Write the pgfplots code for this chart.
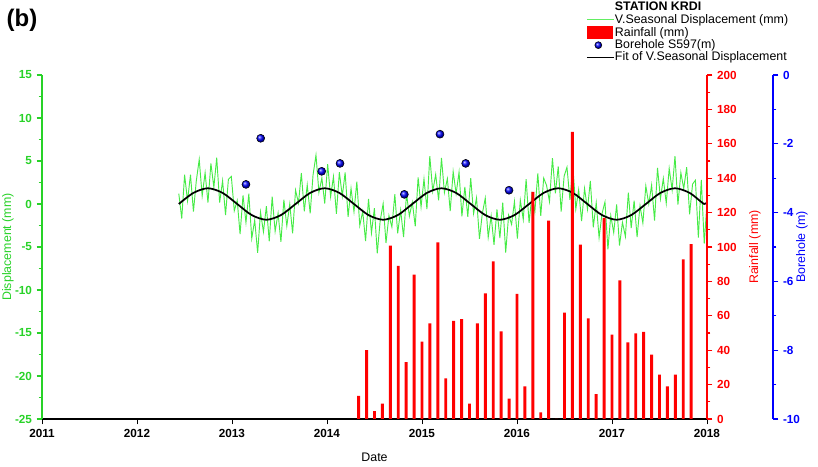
\documentclass[border=0pt]{standalone}
\usepackage{fontspec}
\setmainfont{Liberation Sans}
\usepackage{pgfplots}
\pgfplotsset{compat=1.18}
\definecolor{axgreen}{RGB}{40,210,40}
\definecolor{datgreen}{RGB}{70,235,70}

% seasonal displacement (mm)
\pgfplotstableread{
t y
2012.440 1.20
2012.471 -1.69
2012.501 3.40
2012.532 0.36
2012.563 3.41
2012.594 -0.89
2012.624 2.67
2012.655 5.18
2012.686 0.94
2012.717 3.63
2012.747 0.16
2012.778 4.73
2012.809 1.94
2012.839 5.38
2012.870 0.17
2012.901 2.71
2012.932 -1.29
2012.962 2.86
2012.993 3.20
2013.024 -0.79
2013.055 0.40
2013.085 -3.51
2013.116 1.00
2013.147 -2.16
2013.177 1.19
2013.208 -4.01
2013.239 -1.87
2013.270 -5.68
2013.300 -0.94
2013.331 -3.23
2013.362 -0.26
2013.392 -4.33
2013.423 0.86
2013.454 -3.18
2013.485 -1.07
2013.515 -4.41
2013.546 0.49
2013.577 -2.56
2013.608 0.00
2013.638 -3.41
2013.669 1.60
2013.700 0.11
2013.730 3.60
2013.761 -0.84
2013.792 2.21
2013.823 -1.09
2013.853 3.37
2013.884 5.68
2013.915 1.34
2013.946 3.03
2013.976 0.06
2014.007 4.63
2014.038 0.84
2014.068 3.18
2014.099 -1.13
2014.130 3.71
2014.161 0.91
2014.191 3.66
2014.222 -1.50
2014.253 1.81
2014.284 -0.90
2014.314 2.59
2014.345 -2.50
2014.376 -0.86
2014.406 -4.31
2014.437 0.59
2014.468 -3.37
2014.499 -0.48
2014.529 -5.74
2014.560 -1.93
2014.591 0.04
2014.621 -4.53
2014.652 -1.34
2014.683 -2.68
2014.714 1.13
2014.744 -3.41
2014.775 -0.71
2014.806 -3.86
2014.837 1.20
2014.867 -1.41
2014.898 0.20
2014.929 -2.59
2014.959 3.10
2014.990 -0.34
2015.021 2.91
2015.052 -0.59
2015.082 5.57
2015.113 1.48
2015.144 3.44
2015.175 0.43
2015.205 5.36
2015.236 1.33
2015.267 2.94
2015.297 -0.82
2015.328 3.77
2015.359 1.21
2015.390 3.71
2015.420 -1.44
2015.451 2.00
2015.482 -1.49
2015.513 3.00
2015.543 -1.11
2015.574 0.70
2015.605 -4.06
2015.635 -1.11
2015.666 0.69
2015.697 -3.87
2015.728 -1.38
2015.758 -4.74
2015.789 -0.63
2015.820 -3.96
2015.850 0.17
2015.881 -5.64
2015.912 -1.28
2015.943 -2.37
2015.973 0.29
2016.004 -4.01
2016.035 0.44
2016.066 -1.80
2016.096 2.89
2016.127 -2.20
2016.158 1.11
2016.188 -0.90
2016.219 3.56
2016.250 -1.39
2016.281 3.01
2016.311 2.17
2016.342 0.28
2016.373 5.34
2016.404 1.23
2016.434 4.36
2016.465 -0.87
2016.496 3.24
2016.526 4.28
2016.557 0.47
2016.588 4.41
2016.619 -0.59
2016.649 1.66
2016.680 -2.00
2016.711 1.81
2016.742 -0.60
2016.772 2.69
2016.803 -2.70
2016.834 0.14
2016.864 -3.91
2016.895 -1.11
2016.926 0.23
2016.957 -5.28
2016.987 -1.34
2017.018 -3.33
2017.049 -0.06
2017.079 -4.83
2017.110 -2.14
2017.141 -3.78
2017.172 1.33
2017.202 -2.81
2017.233 0.39
2017.264 -3.86
2017.295 -0.20
2017.325 -2.21
2017.356 2.10
2017.387 0.01
2017.417 2.20
2017.448 -1.94
2017.479 4.21
2017.510 0.61
2017.540 2.97
2017.571 0.08
2017.602 4.14
2017.633 1.63
2017.663 5.56
2017.694 -0.07
2017.725 3.64
2017.755 1.78
2017.786 4.27
2017.817 -1.19
2017.848 2.31
2017.878 2.76
2017.909 -3.90
2017.940 2.81
2017.971 -4.60
2018.000 0.19
}\disp

% fitted seasonal curve (mm)
\pgfplotstableread{
t y
2012.440 0.00
2012.594 1.29
2012.747 1.83
2012.901 1.29
2013.055 0.00
2013.208 -1.29
2013.362 -1.83
2013.515 -1.29
2013.669 0.00
2013.823 1.29
2013.976 1.83
2014.130 1.29
2014.284 0.00
2014.437 -1.29
2014.591 -1.83
2014.745 -1.29
2014.898 0.00
2015.052 1.29
2015.205 1.83
2015.359 1.29
2015.513 0.00
2015.666 -1.29
2015.820 -1.83
2015.973 -1.29
2016.127 0.00
2016.281 1.29
2016.434 1.83
2016.588 1.29
2016.741 0.00
2016.895 -1.29
2017.049 -1.83
2017.202 -1.29
2017.356 0.00
2017.510 1.29
2017.663 1.83
2017.817 1.29
2017.970 0.00
2018.000 0.28
}\fit

% monthly rainfall (mm)
\pgfplotstableread{
t r
2014.333 13.5
2014.417 40
2014.500 4.6
2014.583 9
2014.667 100.8
2014.750 89
2014.833 33
2014.917 84
2015.000 45
2015.083 55.6
2015.167 102.7
2015.250 23.6
2015.333 57
2015.417 58
2015.500 9
2015.583 55.6
2015.667 73
2015.750 91.7
2015.833 51
2015.917 11.8
2016.000 72.7
2016.083 19
2016.167 132
2016.250 3.9
2016.333 115.3
2016.417 0
2016.500 61.8
2016.583 167
2016.667 101.4
2016.750 58.5
2016.833 14.5
2016.917 117
2017.000 49
2017.083 80.6
2017.167 44.6
2017.250 49.8
2017.333 50.6
2017.417 37.4
2017.500 25.8
2017.583 19
2017.667 25.8
2017.750 92.8
2017.833 101.6
}\rain

% borehole S597 level (m)
\pgfplotstableread{
t b
2013.147 -3.18
2013.302 -1.84
2013.944 -2.80
2014.137 -2.57
2014.814 -3.47
2015.189 -1.72
2015.460 -2.57
2015.916 -3.35
}\bore

\pgfplotsset{
  common/.style={
    scale only axis, height=258pt,
    xmin=2011,
    /pgf/number format/assume math mode=true,
    tick label style={font=\fontsize{8.8}{10}\selectfont\bfseries},
    label style={font=\fontsize{9.3}{11}\selectfont},
    tick align=outside,
    major tick length=4pt, minor tick length=2.5pt,
  }
}

\begin{document}
\begin{tikzpicture}
\path[use as bounding box] (-31.5pt,-36pt) rectangle (582pt,314.25pt);

\begin{axis}[common,
  width=498.75pt, xmax=2018,
  ymin=-25, ymax=15,
  axis x line*=bottom, axis y line*=left,
  xtick={2011,2012,...,2018}, minor x tick num=11,
  x tick label style={/pgf/number format/1000 sep={}},
  ytick={-25,-20,...,15}, minor y tick num=1,
  xlabel={Date},
  ylabel={Displacement (mm)},
  xlabel style={at={(axis description cs:0.5,-0.1105)}, anchor=center},
  y axis line style={axgreen, line width=1pt},
  y tick style={axgreen, line width=0.8pt},
  y tick label style={axgreen},
  ylabel style={axgreen, at={(axis description cs:-0.0511,0.5)}, anchor=center},
  x axis line style={black, line width=0.8pt},
  x tick style={black, line width=0.6pt},
]
\addplot[datgreen, line width=0.7pt] table[x=t, y=y] {\disp};
\addplot[black, line width=1.3pt, smooth] table[x=t, y=y] {\fit};
\end{axis}

\begin{axis}[common,
  width=498.75pt, xmax=2018,
  ymin=0, ymax=200,
  axis y line*=right, hide x axis,
  ytick={0,20,...,200}, minor y tick num=1,
  ylabel={Rainfall (mm)},
  y axis line style={red, line width=1pt},
  y tick style={red, line width=0.8pt},
  y tick label style={red},
  ylabel style={red, at={(axis description cs:1.0722,0.5)}, anchor=center},
]
\addplot[ybar, bar width=2.2pt, bar shift=0pt, fill=red, draw=none] table[x=t, y=r] {\rain};
\end{axis}

\begin{axis}[common,
  width=548.25pt, xmax=2018.6947,
  ymin=-10, ymax=0,
  axis y line*=right, hide x axis,
  ytick={-10,-8,...,0}, minor y tick num=1,
  ylabel={Borehole (m)},
  y axis line style={blue, line width=1pt},
  y tick style={blue, line width=0.8pt},
  y tick label style={blue},
  ylabel style={blue, at={(axis description cs:1.0397,0.5)}, anchor=center},
  legend style={at={(0.744,1.2151)}, anchor=north west, draw=none, fill=none,
    font=\fontsize{9.3}{10}\selectfont, inner sep=0pt,
    nodes={inner sep=0.5pt, text height=6.6pt, text depth=1.6pt},
    row sep=0pt},
  legend cell align=left,
]
\addlegendimage{empty legend}
\addlegendentry{\textbf{STATION KRDI}}
\addlegendimage{legend image code/.code={\draw[datgreen!85!white, line width=0.9pt] (0cm,0cm) -- (0.7cm,0cm);}}
\addlegendentry{V.Seasonal Displacement (mm)}
\addlegendimage{legend image code/.code={\fill[red] (0cm,-0.14cm) rectangle (0.68cm,0.18cm);}}
\addlegendentry{Rainfall (mm)}
\addlegendimage{only marks, mark=ball, ball color=blue, mark size=2.6pt}
\addlegendentry{Borehole S597(m)}
\addlegendimage{legend image code/.code={\draw[black, line width=1.2pt] (0cm,0cm) -- (0.7cm,0cm);}}
\addlegendentry{Fit of V.Seasonal Displacement}
\addplot[only marks, mark=ball, ball color=blue, mark size=3pt, forget plot] table[x=t, y=b] {\bore};
\end{axis}

\node[font=\fontsize{18}{20}\selectfont\bfseries] at (-15pt,299pt) {(b)};
\end{tikzpicture}
\end{document}
